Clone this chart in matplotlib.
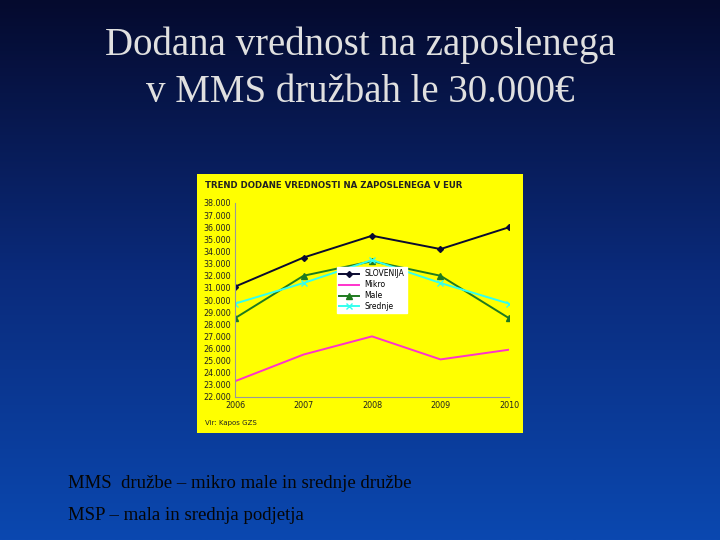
import matplotlib
matplotlib.use("Agg")
import matplotlib.pyplot as plt
import numpy as np
from matplotlib.colors import LinearSegmentedColormap

years = ["2006", "2007", "2008", "2009", "2010"]
slovenija = [31100, 33500, 35300, 34200, 36000]
mikro = [23300, 25500, 27000, 25100, 25900]
male = [28500, 32000, 33200, 32000, 28500]
srednje = [29700, 31400, 33300, 31400, 29700]
yticks = list(range(22000, 38001, 1000))

fig = plt.figure(figsize=(7.2, 5.4), dpi=100)

# slide background gradient
bg = fig.add_axes([0, 0, 1, 1])
grad = np.linspace(0, 1, 256).reshape(-1, 1)
cmap = LinearSegmentedColormap.from_list("slide", ["#050a2e", "#0a2a7a", "#0b48b0"])
bg.imshow(grad, aspect="auto", cmap=cmap, extent=[0, 1, 0, 1], origin="upper")
bg.set_xlim(0, 1)
bg.set_ylim(0, 1)
bg.axis("off")

fig.text(0.5, 1-45/540, "Dodana vrednost na zaposlenega", ha="center", va="center",
         fontsize=28, color="#e0e0e0", family="Liberation Serif")
fig.text(0.5, 1-92/540, "v MMS družbah le 30.000€", ha="center", va="center",
         fontsize=28, color="#e0e0e0", family="Liberation Serif")

fig.text(0.094, 1-484/540, "MMS  družbe – mikro male in srednje družbe", ha="left", va="center",
         fontsize=13.5, color="#050505", family="Liberation Serif")
fig.text(0.094, 1-516/540, "MSP – mala in srednja podjetja", ha="left", va="center",
         fontsize=13.5, color="#050505", family="Liberation Serif")

# yellow chart panel
panel = fig.add_axes([197/720, 1-433/540, 326/720, 259/540])
panel.set_facecolor("#ffff00")
panel.set_xticks([])
panel.set_yticks([])
for s in panel.spines.values():
    s.set_visible(False)
panel.text(0.025, 0.955, "TREND DODANE VREDNOSTI NA ZAPOSLENEGA V EUR", transform=panel.transAxes,
           fontsize=6.2, fontweight="bold", color="#222222", va="center")
panel.text(0.025, 0.04, "Vir: Kapos GZS", transform=panel.transAxes, fontsize=5, color="#222222", va="center")

ax = fig.add_axes([235/720, 1-397/540, 274/720, 194/540])
ax.set_facecolor("none")
x = np.arange(len(years))
ax.plot(x, slovenija, color="#0a0a30", marker="D", markersize=3, lw=1.4, label="SLOVENIJA")
ax.plot(x, mikro, color="#ff33cc", lw=1.4, label="Mikro")
ax.plot(x, male, color="#1f7a1f", marker="^", markersize=4, lw=1.4, label="Male")
ax.plot(x, srednje, color="#33ffee", marker="x", markersize=4, lw=1.4, label="Srednje")
ax.set_xlim(0, 4)
ax.set_ylim(22000, 38000)
ax.set_yticks(yticks)
ax.set_yticklabels([f"{v//1000}.000" for v in yticks])
ax.set_xticks(x)
ax.set_xticklabels(years)
ax.tick_params(labelsize=5.8, colors="#222222", length=0, pad=3)
for s in ["top", "right"]:
    ax.spines[s].set_visible(False)
ax.spines["left"].set_color("#999999")
ax.spines["bottom"].set_color("#999999")
ax.legend(loc="center", bbox_to_anchor=(0.5, 0.55), fontsize=5.5, frameon=True,
          fancybox=False, edgecolor="white", facecolor="white", framealpha=1,
          handlelength=2.5, borderpad=0.3, labelspacing=0.25)

fig.savefig("out.png", dpi=100)
